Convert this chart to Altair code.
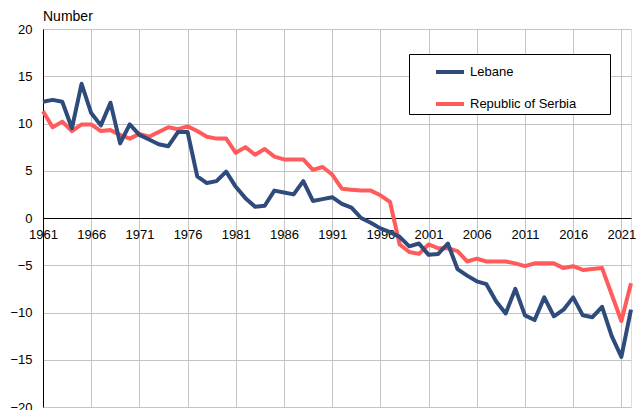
import altair as alt
import pandas as pd

years = list(range(1961, 2023))
lebane = [12.3, 12.5, 12.3, 9.5, 14.2, 11.1, 9.8, 12.2, 7.9, 9.9,
          8.8, 8.3, 7.8, 7.6, 9.1, 9.1, 4.4, 3.7, 3.9, 4.9,
          3.3, 2.1, 1.2, 1.3, 2.9, 2.7, 2.5, 3.9, 1.8, 2.0,
          2.2, 1.5, 1.1, 0.0, -0.5, -1.1, -1.5, -2.0, -3.0, -2.7,
          -3.9, -3.8, -2.7, -5.4, -6.1, -6.7, -7.0, -8.8, -10.1, -7.5,
          -10.3, -10.8, -8.4, -10.4, -9.7, -8.4, -10.3, -10.5, -9.4, -12.5,
          -14.7, -9.7]
serbia = [11.3, 9.6, 10.2, 9.2, 9.9, 9.9, 9.2, 9.3, 8.8, 8.4,
          8.9, 8.6, 9.1, 9.6, 9.4, 9.7, 9.2, 8.6, 8.4, 8.4,
          6.9, 7.5, 6.7, 7.3, 6.5, 6.2, 6.2, 6.2, 5.1, 5.4,
          4.6, 3.1, 3.0, 2.9, 2.9, 2.4, 1.7, -2.8, -3.6, -3.8,
          -2.8, -3.2, -3.2, -3.5, -4.6, -4.3, -4.6, -4.6, -4.6, -4.8,
          -5.1, -4.8, -4.8, -4.8, -5.3, -5.1, -5.5, -5.4, -5.3, -8.1,
          -10.9, -6.9]
series_names = ["Lebane", "Republic of Serbia"]
series_colors = ["#2F4B7C", "#FF5B5B"]
x_ticks = list(range(1961, 2022, 5))
y_ticks = list(range(-20, 21, 5))

df = pd.concat([
    pd.DataFrame({"year": years, "value": lebane, "series": series_names[0]}),
    pd.DataFrame({"year": years, "value": serbia, "series": series_names[1]}),
])

FONT = "Liberation Sans"
W, H = 588, 378

x_enc = alt.X("year:Q",
              scale=alt.Scale(domain=[1961, 2022], nice=False, zero=False),
              axis=alt.Axis(values=x_ticks, format="d", title=None,
                            offset=-H / 2, ticks=False, labelPadding=10,
                            domainColor="#000000", domainWidth=1,
                            gridColor="#c4c4c4", gridWidth=1,
                            labelFontSize=13, labelColor="#000000",
                            labelFont=FONT, labelFlush=False,
                            labelOverlap=False))
y_enc = alt.Y("value:Q",
              scale=alt.Scale(domain=[-20, 20], nice=False),
              axis=alt.Axis(values=y_ticks, title=None, ticks=False,
                            labelPadding=11, domainColor="#000000",
                            domainWidth=1, gridColor="#c4c4c4", gridWidth=1,
                            labelFontSize=13, labelColor="#000000",
                            labelFont=FONT, labelFlush=False,
                            labelOverlap=False))
color_enc = alt.Color("series:N",
                      scale=alt.Scale(domain=series_names, range=series_colors),
                      legend=alt.Legend(title="\u00a0", titleOrient="right",
                                        titlePadding=32, titleFontSize=13,
                                        orient="none",
                                        legendX=366, legendY=25,
                                        symbolType="stroke", symbolSize=784,
                                        symbolStrokeWidth=4,
                                        symbolOffset=23, padding=2,
                                        rowPadding=8, labelOffset=4,
                                        labelFontSize=13, labelFont=FONT,
                                        labelColor="#000000",
                                        strokeColor="#000000",
                                        fillColor="#ffffff"))

base = alt.Chart(df)
serbia_line = base.transform_filter(alt.datum.series == series_names[1]).mark_line(
    strokeWidth=4, strokeJoin="round").encode(x=x_enc, y=y_enc, color=color_enc)
lebane_line = base.transform_filter(alt.datum.series == series_names[0]).mark_line(
    strokeWidth=4, strokeJoin="round").encode(x=x_enc, y=y_enc, color=color_enc)

chart = alt.layer(serbia_line, lebane_line).properties(
    width=W, height=H,
    autosize=alt.AutoSizeParams(type="none"),
    padding={"left": 35, "top": 21, "right": 5, "bottom": 3},
    title=alt.Title(text="Natural increase per 1,000 population, 1961 - 2022",
                    subtitle="Number", anchor="start", frame="group",
                    font=FONT, fontSize=16, fontWeight="bold", color="#000000",
                    subtitleFont=FONT, subtitleFontSize=14,
                    subtitleColor="#000000", subtitlePadding=2, offset=-1),
).configure_view(stroke="#000000", strokeWidth=1).configure(background="#ffffff")

chart.save("out.html", embed_options={"renderer": "svg", "actions": False})
